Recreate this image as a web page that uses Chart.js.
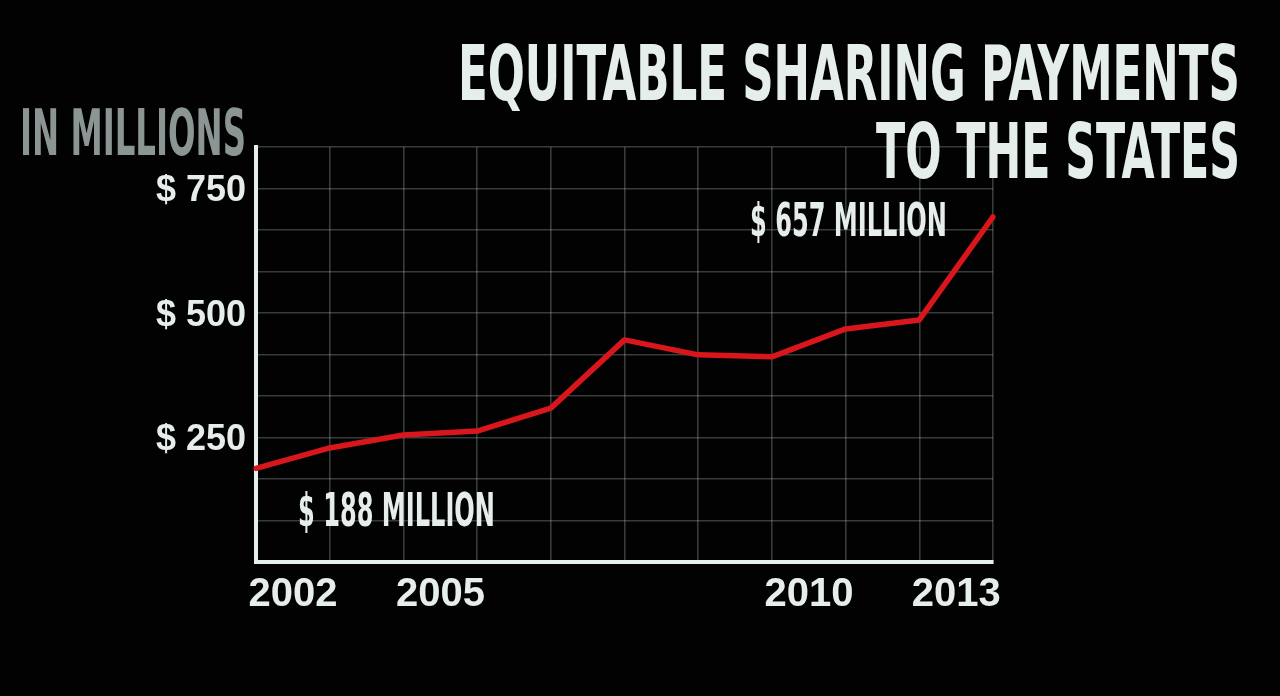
<!DOCTYPE html>
<html>
<head>
<meta charset="utf-8">
<script src="https://cdn.jsdelivr.net/npm/chart.js@4/dist/chart.umd.min.js"></script>
<style>
  html, body { margin: 0; padding: 0; background: #020202; }
  #wrap { width: 1280px; height: 696px; }
</style>
</head>
<body>
<div id="wrap"><canvas id="chart" width="1280" height="696"></canvas></div>
<script>
// values in millions of dollars, one per grid column
const yearTicks = ['2002', '', '2005', '', '', '', '', '2010', '', '2013', ''];
const payments = [188, 229, 255, 263, 309, 446, 416, 412, 468, 486, 693];
const yLabelValues = [250, 500, 750];

const titleLines = ['EQUITABLE SHARING PAYMENTS', 'TO THE STATES'];
const unitText   = 'IN MILLIONS';
const firstNote  = '$ 188 MILLION';
const lastNote   = '$ 657 MILLION';

const FONT = '"DejaVu Sans Condensed", "DejaVu Sans", sans-serif';
const TICK_FONT = '"Liberation Sans", Arial, sans-serif';
const WHITE = '#e6eeeb';
const GRID = 'rgba(180,196,193,0.3)';

// draw condensed text squeezed to a given width
function fitText(ctx, text, x, y, size, width, color, align) {
  ctx.save();
  ctx.font = 'bold ' + size + 'px ' + FONT;
  ctx.fillStyle = color;
  ctx.textBaseline = 'alphabetic';
  ctx.textAlign = align;
  const w = ctx.measureText(text).width;
  ctx.translate(x, y);
  ctx.scale(width / w, 1);
  ctx.fillText(text, 0, 0);
  ctx.restore();
}

const textPlugin = {
  id: 'posterText',
  afterDraw(chart) {
    const ctx = chart.ctx;
    const a = chart.chartArea;
    fitText(ctx, titleLines[0], 1240, 100, 76, 782, WHITE, 'right');
    fitText(ctx, titleLines[1], 1240, 178, 76, 364, WHITE, 'right');
    fitText(ctx, unitText, 20, 155, 64, 226, '#8b9694', 'left');
    fitText(ctx, firstNote, a.left + 42, 526, 46, 197, WHITE, 'left');
    fitText(ctx, lastNote, 750, 236, 46, 197, WHITE, 'left');
  }
};

new Chart(document.getElementById('chart').getContext('2d'), {
  type: 'line',
  data: {
    labels: yearTicks,
    datasets: [{
      data: payments,
      borderColor: '#d8161b',
      borderWidth: 5.5,
      borderJoinStyle: 'round',
      borderCapStyle: 'round',
      pointRadius: 0,
      tension: 0,
      fill: false
    }]
  },
  options: {
    responsive: false,
    animation: false,
    layout: { padding: { left: 0, right: 287, top: 147, bottom: 0 } },
    plugins: { legend: { display: false }, tooltip: { enabled: false }, title: { display: false } },
    scales: {
      x: {
        type: 'category',
        offset: false,
        afterFit: s => { s.height = 134; },
        grid: { color: GRID, lineWidth: 1.6, drawTicks: false },
        border: { display: true, color: WHITE, width: 4 },
        ticks: {
          autoSkip: false, maxRotation: 0, padding: 9,
          labelOffset: 37,
          color: WHITE,
          font: { family: TICK_FONT, size: 40, weight: 'bold' }
        }
      },
      y: {
        min: 0,
        max: 2500 / 3,
        afterFit: s => { s.width = 256; },
        grid: { color: GRID, lineWidth: 1.6, drawTicks: false },
        border: { display: true, color: WHITE, width: 4 },
        ticks: {
          stepSize: 250 / 3,
          maxTicksLimit: 20,
          autoSkip: false,
          padding: 10,
          labelOffset: 3,
          color: WHITE,
          font: { family: TICK_FONT, size: 36, weight: 'bold' },
          callback: v => yLabelValues.includes(Math.round(v)) ? '$ ' + Math.round(v) : ''
        }
      }
    }
  },
  plugins: [textPlugin]
});
</script>
</body>
</html>
